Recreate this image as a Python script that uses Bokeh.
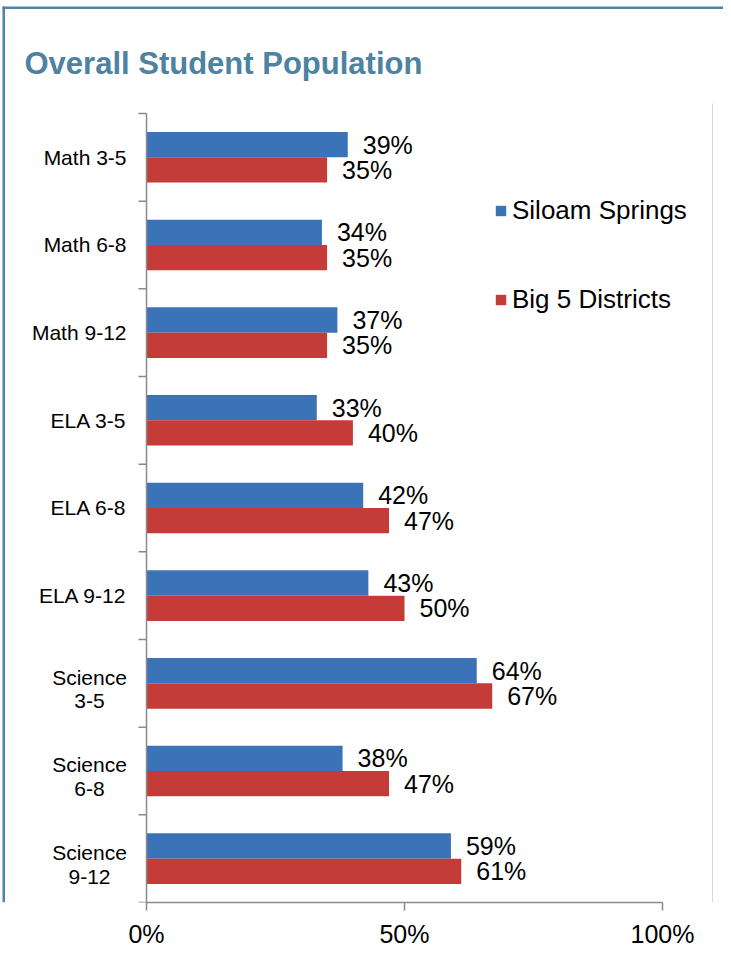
from bokeh.plotting import figure
from bokeh.models import (ColumnDataSource, Range1d, FixedTicker, LabelSet, Label, BoxAnnotation)
from bokeh.transform import dodge
from bokeh.core.properties import value
from bokeh.embed import file_html
from bokeh.resources import INLINE

# ---------------- data ----------------
title_text = "Overall Student Population"
categories = ["Math 3-5", "Math 6-8", "Math 9-12", "ELA 3-5", "ELA 6-8", "ELA 9-12",
              "Science 3-5", "Science 6-8", "Science 9-12"]
category_labels = ["Math 3-5", "Math 6-8", "Math 9-12", "ELA 3-5", "ELA 6-8", "ELA 9-12",
                   "Science\n3-5", "Science\n6-8", "Science\n9-12"]
series_names = ["Siloam Springs", "Big 5 Districts"]
siloam = [39, 34, 37, 33, 42, 43, 64, 38, 59]
big5 = [35, 35, 35, 40, 47, 50, 67, 47, 61]
x_ticks = [0, 50, 100]
x_tick_labels = ["0%", "50%", "100%"]

# ---------------- style / geometry ----------------
BLUE = "#3b73b9"
RED = "#c53b38"
AXIS = "#8a8a8a"
TITLE_C = "#4d82a1"
BORDER_C = "#4f84a2"
FONT_NAME = "Liberation Sans"
FONT = value(FONT_NAME)

W, H = 723, 959                 # canvas
FB = 902                        # frame bottom on canvas (x-axis line)
AX0 = 146                       # canvas x of the value 0
PX_PER_PCT = 5.16               # pixels per percent
SLOT = 87.67                    # pixels per category slot
TICK = 8                        # tick length, px

n = len(categories)
ypos = [n - i - 0.5 for i in range(n)]      # first category on top

x_start = -AX0 / PX_PER_PCT
x_end = (W - AX0) / PX_PER_PCT
y_end = FB / SLOT

src = ColumnDataSource(dict(
    cat=categories, y=ypos, siloam=siloam, big5=big5,
    siloam_txt=[f"{v}%" for v in siloam],
    big5_txt=[f"{v}%" for v in big5],
))

p = figure(width=W, height=H,
           x_range=Range1d(x_start, x_end), y_range=Range1d(0, y_end),
           output_backend="svg", toolbar_location=None,
           min_border_left=0, min_border_right=0, min_border_top=0,
           min_border_bottom=H - FB)
p.outline_line_color = None
p.xgrid.grid_line_color = None
p.ygrid.grid_line_color = None
p.yaxis.visible = False

# bars
BH = 0.2886
off = BH / 2
p.hbar(y=dodge("y", off), left=0, right="siloam", height=BH,
       source=src, fill_color=BLUE, line_color=None, legend_label=series_names[0])
p.hbar(y=dodge("y", -off), left=0, right="big5", height=BH,
       source=src, fill_color=RED, line_color=None, legend_label=series_names[1])

# data labels
for col, txt, o in (("siloam", "siloam_txt", off), ("big5", "big5_txt", -off)):
    p.add_layout(LabelSet(x=col, y=dodge("y", o), text=txt, source=src,
                          x_offset=15, text_baseline="middle", text_align="left",
                          text_font=FONT, text_font_size="25px", text_color="black"))

# x axis (value axis)
xa = p.xaxis[0]
xa.ticker = FixedTicker(ticks=x_ticks)
xa.major_label_overrides = {t: l for t, l in zip(x_ticks, x_tick_labels)}
xa.bounds = (0, 100)
xa.axis_line_color = AXIS
xa.axis_line_width = 1.5
xa.major_tick_line_color = AXIS
xa.major_tick_line_width = 1.5
xa.major_tick_out = TICK
xa.major_tick_in = 0
xa.minor_tick_out = 0
xa.minor_tick_in = 0
xa.major_label_standoff = 9
xa.major_label_text_font = FONT_NAME
xa.major_label_text_font_size = "25px"
xa.major_label_text_color = "black"

# category axis: line at value 0, ticks on the slot boundaries
bounds = list(range(n + 1))
tick_len = TICK / PX_PER_PCT
p.segment(x0=[0], y0=[0], x1=[0], y1=[n], line_color=AXIS, line_width=1.5)
p.segment(x0=[-tick_len] * len(bounds), y0=bounds, x1=[0] * len(bounds), y1=bounds,
          line_color=AXIS, line_width=1.5)

# category labels (single line right-aligned; two-line labels centred line by line)
single = [i for i, l in enumerate(category_labels) if "\n" not in l]
multi = [i for i, l in enumerate(category_labels) if "\n" in l]
src1 = ColumnDataSource(dict(x=[0] * len(single), y=[ypos[i] for i in single],
                             lab=[category_labels[i] for i in single]))
p.add_layout(LabelSet(x="x", y="y", text="lab", source=src1, x_offset=-20,
                      text_align="right", text_baseline="middle", text_font=FONT,
                      text_font_size="21px", text_color="black"))
for line_no, yoff in ((0, 6), (1, -18)):
    s = ColumnDataSource(dict(x=[0] * len(multi), y=[ypos[i] for i in multi],
                              lab=[category_labels[i].split("\n")[line_no] for i in multi]))
    p.add_layout(LabelSet(x="x", y="y", text="lab", source=s, x_offset=-57, y_offset=yoff,
                          text_align="center", text_baseline="middle", text_font=FONT,
                          text_font_size="21px", text_color="black"))

# title
p.add_layout(Label(x=24, y=FB - 63, x_units="screen", y_units="screen", text=title_text,
                   text_font=FONT_NAME, text_font_style="bold", text_font_size="31px",
                   text_color=TITLE_C, text_baseline="alphabetic", text_align="left"))

# legend
lg = p.legend[0]
lg.location = (494, 587)
lg.padding = 0
lg.margin = 0
lg.border_line_color = None
lg.background_fill_alpha = 0
lg.label_text_font = FONT_NAME
lg.label_text_font_size = "26px"
lg.label_text_color = "black"
lg.glyph_width = 13
lg.glyph_height = 13
lg.label_standoff = 5
lg.label_height = 30
lg.spacing = 58

# chart-area border lines (frame-relative screen units, y up from frame bottom)
def box(l, r, b, t, color):
    p.add_layout(BoxAnnotation(left=l, right=r, bottom=b, top=t,
                               left_units="screen", right_units="screen",
                               bottom_units="screen", top_units="screen",
                               fill_color=color, fill_alpha=1, line_color=None))

box(2, 4.5, 0, FB - 6, BORDER_C)             # left border
box(2, W, FB - 8.5, FB - 6, BORDER_C)        # top border
box(711.5, 712.5, 0, FB - 103, "#d9d9d9")    # right light line

open("out.html", "w").write(file_html(p, INLINE))
